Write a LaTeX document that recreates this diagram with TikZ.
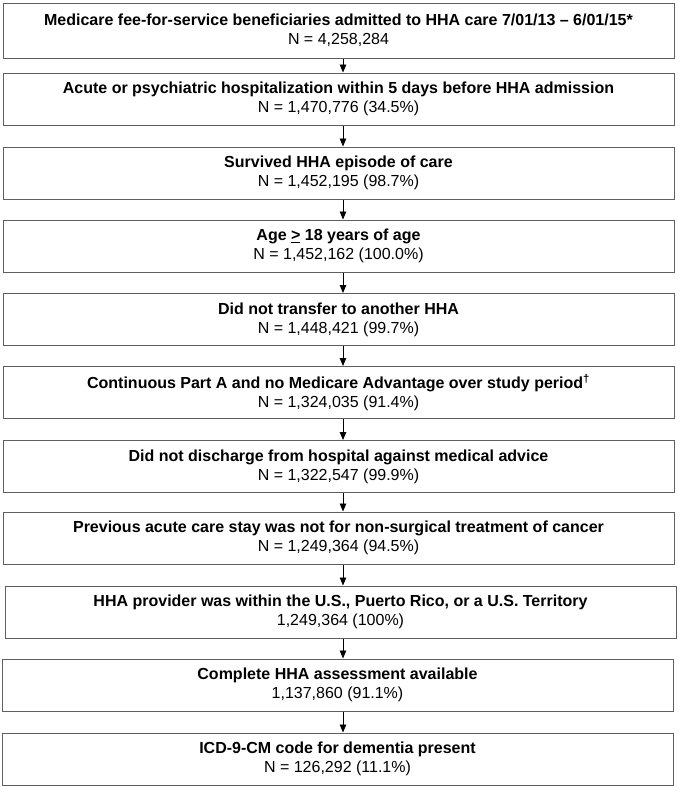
\documentclass[tikz,border=0pt]{standalone}
\usepackage{fontspec}
\setmainfont{Liberation Sans}
\usetikzlibrary{calc, positioning, arrows.meta}

\definecolor{boxgray}{RGB}{95,95,95}

\tikzset{
  stage/.style={draw=boxgray, line width=1pt, inner sep=0pt, align=center,
    minimum width=671pt, minimum height=52pt,
    font=\fontsize{16}{19}\selectfont},
  flow/.style={-{Triangle[width=6.5pt, length=8pt]}, line width=0.9pt, black},
}

\begin{document}
\begin{tikzpicture}[x=1pt, y=-1pt]

  \useasboundingbox (0, 0) rectangle (679, 787);

  % arrows run a bit right of the box centres
  \coordinate (arr-x) at (343, 0);

  % stages of the cohort
  \node[stage, minimum height=55pt] (all)      at (338.5, 30.5)
    {\textbf{Medicare fee-for-service beneficiaries admitted to HHA care 7/01/13 -- 6/01/15*}\\N = 4,258,284};
  \node[stage] (hosp)     at (338.5, 99)
    {\textbf{Acute or psychiatric hospitalization within 5 days before HHA admission}\\N = 1,470,776 (34.5\%)};
  \node[stage] (survived) at (338.5, 173)
    {\textbf{Survived HHA episode of care}\\N = 1,452,195 (98.7\%)};
  \node[stage] (age)      at (338.5, 246)
    {\textbf{Age \underline{>} 18 years of age}\\N = 1,452,162 (100.0\%)};
  \node[stage] (transfer) at (338.5, 319.5)
    {\textbf{Did not transfer to another HHA}\\N = 1,448,421 (99.7\%)};
  \node[stage] (parta)    at (338.5, 392.5)
    {\textbf{Continuous Part A and no Medicare Advantage over study period\textsuperscript{\dag}}\\N = 1,324,035 (91.4\%)};
  \node[stage] (ama)      at (338.5, 466.5)
    {\textbf{Did not discharge from hospital against medical advice}\\N = 1,322,547 (99.9\%)};
  \node[stage] (cancer)   at (338.5, 538)
    {\textbf{Previous acute care stay was not for non-surgical treatment of cancer}\\N = 1,249,364 (94.5\%)};
  \node[stage] (usa)      at (340.5, 612)
    {\textbf{HHA provider was within the U.S., Puerto Rico, or a U.S. Territory}\\1,249,364 (100\%)};
  \node[stage] (oasis)    at (337.5, 685)
    {\textbf{Complete HHA assessment available}\\1,137,860 (91.1\%)};
  \node[stage] (dementia) at (337.5, 759)
    {\textbf{ICD-9-CM code for dementia present}\\N = 126,292 (11.1\%)};

  % connectors
  \draw[flow] (all.south -| arr-x)      to (hosp.north -| arr-x);
  \draw[flow] (hosp.south -| arr-x)     to (survived.north -| arr-x);
  \draw[flow] (survived.south -| arr-x) to (age.north -| arr-x);
  \draw[flow] (age.south -| arr-x)      to (transfer.north -| arr-x);
  \draw[flow] (transfer.south -| arr-x) to (parta.north -| arr-x);
  \draw[flow] (parta.south -| arr-x)    to (ama.north -| arr-x);
  \draw[flow] (ama.south -| arr-x)      to (cancer.north -| arr-x);
  \draw[flow] (cancer.south -| arr-x)   to (usa.north -| arr-x);
  \draw[flow] (usa.south -| arr-x)      to (oasis.north -| arr-x);
  \draw[flow] (oasis.south -| arr-x)    to (dementia.north -| arr-x);

\end{tikzpicture}
\end{document}
